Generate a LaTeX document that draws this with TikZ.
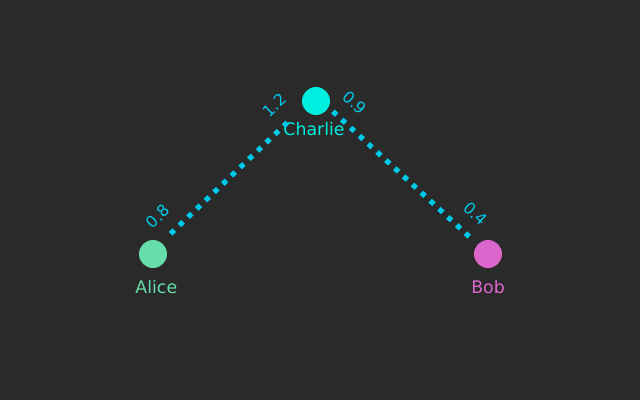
\documentclass[tikz,border=0pt]{standalone}
\usepackage{fontspec}
\setmainfont{DejaVu Sans}
\usetikzlibrary{positioning}
\definecolor{bg}{HTML}{2A2A2A}
\definecolor{alicecol}{HTML}{66DDAA}
\definecolor{charliecol}{HTML}{00EEE0}
\definecolor{bobcol}{HTML}{DD66CC}
\definecolor{linkcol}{HTML}{00C8E8}

\begin{document}
\begin{tikzpicture}[x=0.75pt,y=-0.75pt,
        person/.style={circle,fill=#1,minimum size=21pt,inner sep=0pt,outer sep=0pt},
        who/.style={text=#1,font=\fontsize{13}{15}\selectfont,anchor=base,inner sep=0pt},
        link/.style={linkcol,line width=3.9pt,dash pattern=on 3.9pt off 5.1pt},
        weight/.style={text=linkcol,font=\fontsize{12}{14}\selectfont,sloped,above=9.5pt,inner sep=0pt}]
        \fill[bg] (0,0) rectangle (640,400);

        \node[person=alicecol] (alice) at (153,254) {};
        \node[person=charliecol] (charlie) at (316,101) {};
        \node[person=bobcol] (bob) at (488,254) {};

        \node[who=alicecol] (alicelabel) at ([xshift=2.5pt,yshift=-19pt]alice.south) {Alice};
        \node[who=charliecol] (charlielabel) at ([xshift=-1.5pt,yshift=-15.2pt]charlie.south) {Charlie};
        \node[who=bobcol] (boblabel) at ([yshift=-19pt]bob.south) {Bob};

        \draw[link,shorten <=9.75pt,shorten >=12pt] (alice.54) -- node[weight,pos=.08] {0.8} node[weight,pos=.9] {1.2} (charlie.206);
        \draw[link,shorten <=4.5pt,shorten >=4.9pt] (charlie.-27) -- node[weight,pos=.08] {0.9} node[weight,pos=.89] {0.4} (bob.137);
    \end{tikzpicture}
\end{document}
